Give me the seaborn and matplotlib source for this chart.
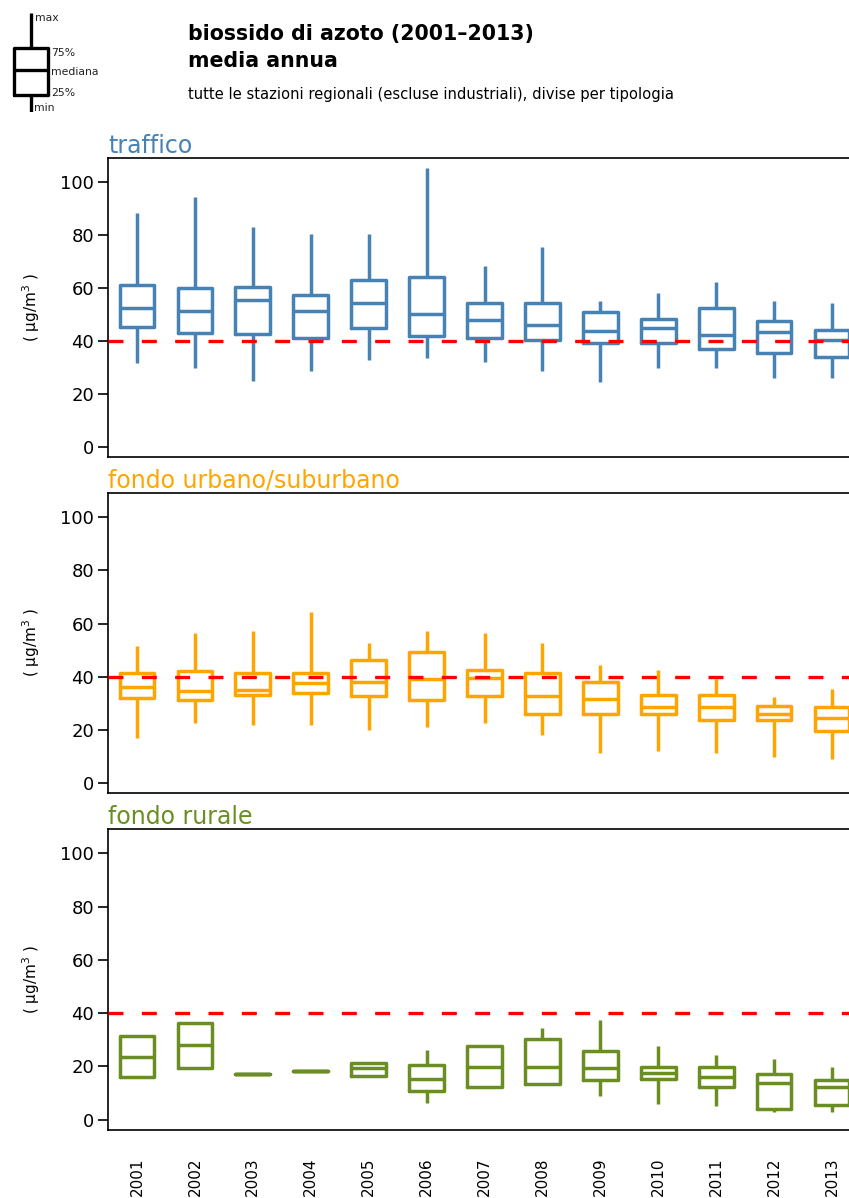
import numpy as np
import pandas as pd
import matplotlib
matplotlib.use("Agg")
import matplotlib.pyplot as plt
import seaborn as sns

sns.set_theme(style="ticks")
plt.rcParams['font.family'] = ['DejaVu Sans']
plt.rcParams['text.color'] = 'black'

# anni
anni = [str(a) for a in range(2001, 2014)]

# statistiche (min, 25%, mediana, 75%, max)
traffico_min = [31.8, 29.6, 25.0, 28.8, 32.8, 33.7, 31.9, 28.8, 24.6, 29.8, 29.6, 25.9, 25.9]
traffico_q1 = [45.4, 43.1, 42.6, 41.0, 44.8, 41.9, 41.0, 40.4, 39.1, 39.1, 37.0, 35.6, 34.0]
traffico_med = [52.6, 51.5, 55.5, 51.5, 54.2, 50.2, 47.9, 46.2, 43.8, 44.9, 42.4, 43.4, 40.4]
traffico_q3 = [61.0, 60.2, 60.5, 57.5, 63.0, 64.0, 54.2, 54.2, 51.1, 48.4, 52.3, 47.7, 44.1]
traffico_max = [88.3, 94.6, 83.2, 80.3, 80.3, 105.3, 68.5, 75.4, 55.2, 58.3, 62.2, 55.2, 54.2]

urbano_min = [16.8, 22.6, 21.6, 21.6, 19.8, 21.0, 22.6, 17.9, 11.3, 11.9, 11.0, 9.8, 8.8]
urbano_q1 = [31.9, 31.1, 33.0, 33.9, 32.6, 31.1, 32.6, 25.7, 25.7, 25.7, 23.8, 23.5, 19.4]
urbano_med = [36.1, 34.6, 35.0, 37.4, 38.1, 39.1, 39.5, 32.6, 31.6, 28.6, 28.6, 26.0, 24.5]
urbano_q3 = [41.4, 42.2, 41.4, 41.4, 46.2, 49.2, 42.3, 41.4, 37.9, 33.1, 33.1, 29.0, 28.6]
urbano_max = [51.7, 56.5, 57.3, 64.5, 52.7, 57.1, 56.5, 52.7, 44.5, 42.4, 39.1, 32.2, 35.4]

rurale_min = [16.2, 19.3, 17.2, 18.2, 16.3, 6.3, 12.2, 13.2, 9.0, 5.9, 5.3, 2.8, 2.8]
rurale_q1 = [16.2, 19.3, 17.2, 18.2, 16.3, 10.7, 12.2, 13.2, 14.9, 15.3, 12.2, 4.0, 5.6]
rurale_med = [23.7, 27.9, 17.2, 18.2, 19.3, 15.3, 19.7, 19.7, 19.3, 17.4, 15.9, 13.9, 12.4]
rurale_q3 = [31.4, 36.3, 17.2, 18.2, 21.2, 20.6, 27.5, 30.2, 25.7, 19.7, 19.7, 17.2, 14.7]
rurale_max = [31.4, 36.3, 17.2, 18.2, 21.2, 26.2, 27.5, 34.4, 37.3, 27.5, 24.1, 22.8, 19.7]

limite = 40

tipologie = ["traffico", "fondo urbano/suburbano", "fondo rurale"]
colori = ["#4682B4", "#FFA500", "#6B8E23"]

# legenda (schema del box)
legenda_valori = [0.0, 0.172, 0.424, 0.646, 1.0]
legenda_etichette = ["min", "25%", "mediana", "75%", "max"]


def in_formato_lungo(mins, q1, med, q3, maxs):
    # 5 valori per anno: i quartili del boxplot coincidono con q1, mediana, q3
    righe = []
    for i, anno in enumerate(anni):
        for v in (mins[i], q1[i], med[i], q3[i], maxs[i]):
            righe.append({"anno": anno, "valore": v})
    return pd.DataFrame(righe)


dati = [
    in_formato_lungo(traffico_min, traffico_q1, traffico_med, traffico_q3, traffico_max),
    in_formato_lungo(urbano_min, urbano_q1, urbano_med, urbano_q3, urbano_max),
    in_formato_lungo(rurale_min, rurale_q1, rurale_med, rurale_q3, rurale_max),
]

W, H = 849, 1198
fig = plt.figure(figsize=(W / 100, H / 100), dpi=100)

# posizione pannelli in pixel (top, bottom)
pannelli_px = [(158, 457), (493, 793), (829, 1130)]
left_px, right_px = 108, 861

for k, (df, nome, col) in enumerate(zip(dati, tipologie, colori)):
    top, bot = pannelli_px[k]
    ax = fig.add_axes([left_px / W, 1 - bot / H, (right_px - left_px) / W, (bot - top) / H])
    sns.boxplot(data=df, x="anno", y="valore", order=anni, ax=ax, color=col,
                fill=False, linewidth=2.5, width=0.6, whis=(0, 100),
                showcaps=False, linecolor=col)
    ax.axhline(limite, color="red", lw=2.4, ls=(0, (4.5, 5.5)), zorder=10)
    ax.set_xlim(-0.5, 12.5)
    ax.set_ylim(-3.9, 109.2)
    ax.set_yticks([0, 20, 40, 60, 80, 100])
    ax.set_xlabel("")
    ax.set_ylabel("( µg/m$^{3}$ )", fontsize=11, color="black")
    ax.yaxis.set_label_coords(-0.088, 0.5)
    ax.set_title(nome, loc="left", color=col, fontsize=17, pad=1)
    for s in ax.spines.values():
        s.set_visible(True)
        s.set_linewidth(1.2)
        s.set_color("black")
    ax.tick_params(axis="y", length=7, width=1.2, labelsize=13, pad=3, colors="black")
    if k < 2:
        ax.tick_params(axis="x", bottom=False, labelbottom=False)
    else:
        ax.tick_params(axis="x", length=0, labelsize=11, pad=20, labelrotation=90,
                       colors="black")

# schema della legenda in alto a sinistra
ax_leg = fig.add_axes([0, 1 - 112 / H, 62 / W, 99 / H])
sns.boxplot(y=legenda_valori, ax=ax_leg, color="black", fill=False, linewidth=2.4,
            width=0.55, whis=(0, 100), showcaps=False, linecolor="black")
ax_leg.set_xlim(-0.5, 0.5)
ax_leg.set_ylim(0, 1)
ax_leg.axis("off")
pos_testo = {"max": (0.07, 0.95), "75%": (0.32, 0.6), "mediana": (0.32, 0.40),
             "25%": (0.32, 0.19), "min": (0.05, 0.04)}
for et in legenda_etichette:
    x, y = pos_testo[et]
    ax_leg.text(x, y, et, fontsize=7.8, va="center", ha="left", color="#222222", clip_on=False)

fig.text(188 / W, 1 - 34 / H, "biossido di azoto (2001–2013)", fontsize=14.8,
         fontweight="bold", va="center", ha="left")
fig.text(188 / W, 1 - 61 / H, "media annua", fontsize=14.8, fontweight="bold",
         va="center", ha="left")
fig.text(188 / W, 1 - 94 / H,
         "tutte le stazioni regionali (escluse industriali), divise per tipologia",
         fontsize=10.6, va="center", ha="left")

fig.savefig("out.png", dpi=100)
